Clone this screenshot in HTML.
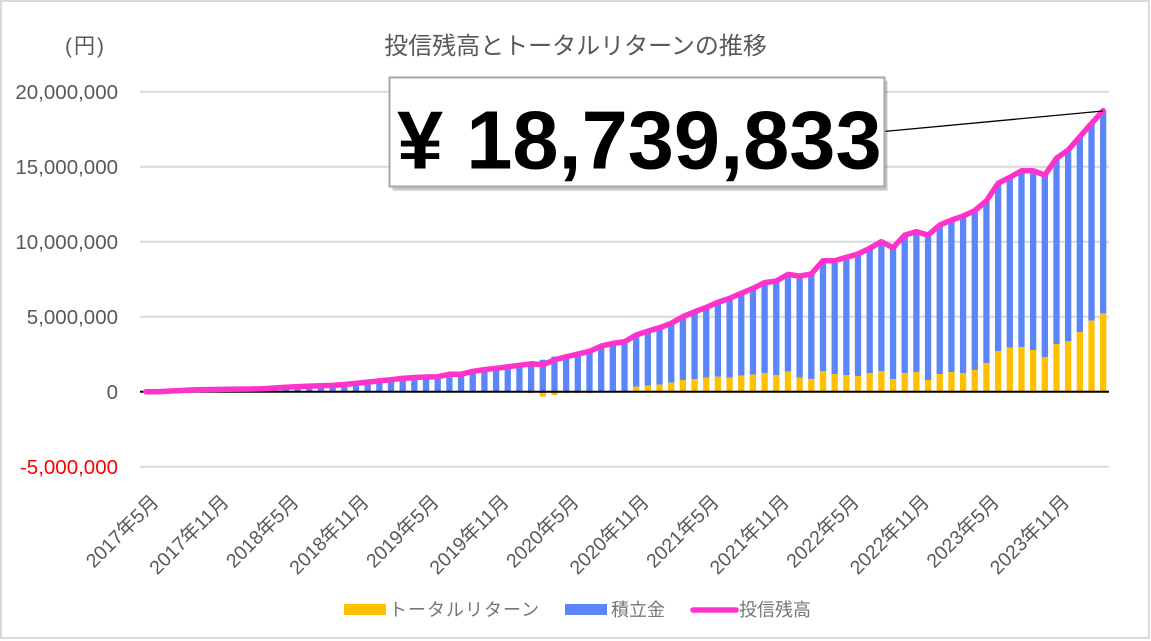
<!DOCTYPE html>
<html>
<head>
<meta charset="utf-8">
<style>
  html,body{margin:0;padding:0;background:#fff;}
  svg{display:block;}
  text{font-family:"Liberation Sans","Noto Sans CJK JP",sans-serif;}
</style>
</head>
<body>
<svg width="1151" height="641" viewBox="0 0 1151 641" xmlns="http://www.w3.org/2000/svg">
  <rect x="0" y="0" width="1151" height="641" fill="#fff"/>
  <rect x="1" y="1" width="1148" height="637" fill="none" stroke="#d9d9d9" stroke-width="2"/>

  <text x="575.5" y="54" font-size="24" fill="#595959" text-anchor="middle">投信残高とトータルリターンの推移</text>
  <text x="65" y="53" font-size="21" fill="#595959" letter-spacing="2">(円)</text>

  <g stroke="#d9d9d9" stroke-width="2">
    <line x1="140" y1="91.7" x2="1109" y2="91.7"/>
    <line x1="140" y1="166.7" x2="1109" y2="166.7"/>
    <line x1="140" y1="241.7" x2="1109" y2="241.7"/>
    <line x1="140" y1="316.7" x2="1109" y2="316.7"/>
    <line x1="140" y1="466.7" x2="1109" y2="466.7"/>
  </g>

  <g font-size="20.5" fill="#595959" text-anchor="end">
    <text x="118" y="99">20,000,000</text>
    <text x="118" y="174">15,000,000</text>
    <text x="118" y="249">10,000,000</text>
    <text x="118" y="324">5,000,000</text>
    <text x="118" y="399">0</text>
    <text x="118" y="474" fill="#ff0000">-5,000,000</text>
  </g>

  <g transform="translate(145.84,391.7) scale(11.675,-15)">
    <g fill="#5b86fa">
      <rect x="1.73" y="0" width="0.54" height="0.04"/>
      <rect x="2.73" y="0" width="0.54" height="0.08"/>
      <rect x="3.73" y="0" width="0.54" height="0.12"/>
      <rect x="4.73" y="0" width="0.54" height="0.14"/>
      <rect x="5.73" y="0" width="0.54" height="0.15"/>
      <rect x="6.73" y="0" width="0.54" height="0.16"/>
      <rect x="7.73" y="0" width="0.54" height="0.17"/>
      <rect x="8.73" y="0" width="0.54" height="0.18"/>
      <rect x="9.73" y="0" width="0.54" height="0.22"/>
      <rect x="10.73" y="0" width="0.54" height="0.25"/>
      <rect x="11.73" y="0" width="0.54" height="0.3"/>
      <rect x="12.73" y="0" width="0.54" height="0.36"/>
      <rect x="13.73" y="0" width="0.54" height="0.37"/>
      <rect x="14.73" y="0" width="0.54" height="0.4"/>
      <rect x="15.73" y="0" width="0.54" height="0.42"/>
      <rect x="16.73" y="0" width="0.54" height="0.51"/>
      <rect x="17.73" y="0" width="0.54" height="0.59"/>
      <rect x="18.73" y="0" width="0.54" height="0.67"/>
      <rect x="19.73" y="0" width="0.54" height="0.75"/>
      <rect x="20.73" y="0" width="0.54" height="0.83"/>
      <rect x="21.73" y="0" width="0.54" height="0.92"/>
      <rect x="22.73" y="0" width="0.54" height="0.95"/>
      <rect x="23.73" y="0" width="0.54" height="1.01"/>
      <rect x="24.73" y="0" width="0.54" height="1.03"/>
      <rect x="25.73" y="0" width="0.54" height="1.19"/>
      <rect x="26.73" y="0" width="0.54" height="1.19"/>
      <rect x="27.73" y="0" width="0.54" height="1.39"/>
      <rect x="28.73" y="0" width="0.54" height="1.47"/>
      <rect x="29.73" y="0" width="0.54" height="1.56"/>
      <rect x="30.73" y="0" width="0.54" height="1.66"/>
      <rect x="31.73" y="0" width="0.54" height="1.76"/>
      <rect x="32.73" y="0" width="0.54" height="1.96"/>
      <rect x="33.73" y="0" width="0.54" height="2.13"/>
      <rect x="34.73" y="0" width="0.54" height="2.34"/>
      <rect x="35.73" y="0" width="0.54" height="2.43"/>
      <rect x="36.73" y="0" width="0.54" height="2.61"/>
      <rect x="37.73" y="0" width="0.54" height="2.79"/>
      <rect x="38.73" y="0" width="0.54" height="3.04"/>
      <rect x="39.73" y="0" width="0.54" height="3.22"/>
      <rect x="40.73" y="0" width="0.54" height="3.33"/>
      <rect x="41.73" y="0.33" width="0.54" height="3.45"/>
      <rect x="42.73" y="0.4" width="0.54" height="3.64"/>
      <rect x="43.73" y="0.47" width="0.54" height="3.8"/>
      <rect x="44.73" y="0.6" width="0.54" height="3.96"/>
      <rect x="45.73" y="0.78" width="0.54" height="4.22"/>
      <rect x="46.73" y="0.84" width="0.54" height="4.49"/>
      <rect x="47.73" y="0.93" width="0.54" height="4.69"/>
      <rect x="48.73" y="1.0" width="0.54" height="4.96"/>
      <rect x="49.73" y="0.93" width="0.54" height="5.29"/>
      <rect x="50.73" y="1.07" width="0.54" height="5.49"/>
      <rect x="51.73" y="1.13" width="0.54" height="5.76"/>
      <rect x="52.73" y="1.24" width="0.54" height="6.03"/>
      <rect x="53.73" y="1.11" width="0.54" height="6.27"/>
      <rect x="54.73" y="1.33" width="0.54" height="6.49"/>
      <rect x="55.73" y="0.93" width="0.54" height="6.78"/>
      <rect x="56.73" y="0.84" width="0.54" height="7.01"/>
      <rect x="57.73" y="1.38" width="0.54" height="7.35"/>
      <rect x="58.73" y="1.18" width="0.54" height="7.55"/>
      <rect x="59.73" y="1.11" width="0.54" height="7.85"/>
      <rect x="60.73" y="1.04" width="0.54" height="8.14"/>
      <rect x="61.73" y="1.24" width="0.54" height="8.32"/>
      <rect x="62.73" y="1.38" width="0.54" height="8.62"/>
      <rect x="63.73" y="0.84" width="0.54" height="8.76"/>
      <rect x="64.73" y="1.24" width="0.54" height="9.2"/>
      <rect x="65.73" y="1.31" width="0.54" height="9.36"/>
      <rect x="66.73" y="0.78" width="0.54" height="9.66"/>
      <rect x="67.73" y="1.18" width="0.54" height="9.93"/>
      <rect x="68.73" y="1.31" width="0.54" height="10.13"/>
      <rect x="69.73" y="1.24" width="0.54" height="10.47"/>
      <rect x="70.73" y="1.44" width="0.54" height="10.63"/>
      <rect x="71.73" y="1.91" width="0.54" height="10.82"/>
      <rect x="72.73" y="2.71" width="0.54" height="11.18"/>
      <rect x="73.73" y="2.93" width="0.54" height="11.36"/>
      <rect x="74.73" y="2.98" width="0.54" height="11.75"/>
      <rect x="75.73" y="2.78" width="0.54" height="11.95"/>
      <rect x="76.73" y="2.31" width="0.54" height="12.13"/>
      <rect x="77.73" y="3.18" width="0.54" height="12.38"/>
      <rect x="78.73" y="3.38" width="0.54" height="12.73"/>
      <rect x="79.73" y="3.98" width="0.54" height="13.02"/>
      <rect x="80.73" y="4.73" width="0.54" height="13.16"/>
      <rect x="81.73" y="5.22" width="0.54" height="13.52"/>
    </g>
    <g fill="#ffc000">
      <rect x="9.73" y="-0.03" width="0.54" height="0.03"/>
      <rect x="12.73" y="-0.03" width="0.54" height="0.03"/>
      <rect x="16.73" y="-0.03" width="0.54" height="0.03"/>
      <rect x="17.73" y="-0.03" width="0.54" height="0.03"/>
      <rect x="18.73" y="-0.03" width="0.54" height="0.03"/>
      <rect x="19.73" y="-0.03" width="0.54" height="0.03"/>
      <rect x="20.73" y="-0.03" width="0.54" height="0.03"/>
      <rect x="21.73" y="-0.03" width="0.54" height="0.03"/>
      <rect x="23.73" y="-0.03" width="0.54" height="0.03"/>
      <rect x="24.73" y="-0.03" width="0.54" height="0.03"/>
      <rect x="25.73" y="-0.03" width="0.54" height="0.03"/>
      <rect x="26.73" y="-0.03" width="0.54" height="0.03"/>
      <rect x="27.73" y="-0.03" width="0.54" height="0.03"/>
      <rect x="32.73" y="-0.1" width="0.54" height="0.1"/>
      <rect x="33.73" y="-0.33" width="0.54" height="0.33"/>
      <rect x="34.73" y="-0.22" width="0.54" height="0.22"/>
      <rect x="35.73" y="-0.1" width="0.54" height="0.1"/>
      <rect x="36.73" y="-0.1" width="0.54" height="0.1"/>
      <rect x="37.73" y="-0.1" width="0.54" height="0.1"/>
      <rect x="41.73" y="0" width="0.54" height="0.33"/>
      <rect x="42.73" y="0" width="0.54" height="0.4"/>
      <rect x="43.73" y="0" width="0.54" height="0.47"/>
      <rect x="44.73" y="0" width="0.54" height="0.6"/>
      <rect x="45.73" y="0" width="0.54" height="0.78"/>
      <rect x="46.73" y="0" width="0.54" height="0.84"/>
      <rect x="47.73" y="0" width="0.54" height="0.93"/>
      <rect x="48.73" y="0" width="0.54" height="1.0"/>
      <rect x="49.73" y="0" width="0.54" height="0.93"/>
      <rect x="50.73" y="0" width="0.54" height="1.07"/>
      <rect x="51.73" y="0" width="0.54" height="1.13"/>
      <rect x="52.73" y="0" width="0.54" height="1.24"/>
      <rect x="53.73" y="0" width="0.54" height="1.11"/>
      <rect x="54.73" y="0" width="0.54" height="1.33"/>
      <rect x="55.73" y="0" width="0.54" height="0.93"/>
      <rect x="56.73" y="0" width="0.54" height="0.84"/>
      <rect x="57.73" y="0" width="0.54" height="1.38"/>
      <rect x="58.73" y="0" width="0.54" height="1.18"/>
      <rect x="59.73" y="0" width="0.54" height="1.11"/>
      <rect x="60.73" y="0" width="0.54" height="1.04"/>
      <rect x="61.73" y="0" width="0.54" height="1.24"/>
      <rect x="62.73" y="0" width="0.54" height="1.38"/>
      <rect x="63.73" y="0" width="0.54" height="0.84"/>
      <rect x="64.73" y="0" width="0.54" height="1.24"/>
      <rect x="65.73" y="0" width="0.54" height="1.31"/>
      <rect x="66.73" y="0" width="0.54" height="0.78"/>
      <rect x="67.73" y="0" width="0.54" height="1.18"/>
      <rect x="68.73" y="0" width="0.54" height="1.31"/>
      <rect x="69.73" y="0" width="0.54" height="1.24"/>
      <rect x="70.73" y="0" width="0.54" height="1.44"/>
      <rect x="71.73" y="0" width="0.54" height="1.91"/>
      <rect x="72.73" y="0" width="0.54" height="2.71"/>
      <rect x="73.73" y="0" width="0.54" height="2.93"/>
      <rect x="74.73" y="0" width="0.54" height="2.98"/>
      <rect x="75.73" y="0" width="0.54" height="2.78"/>
      <rect x="76.73" y="0" width="0.54" height="2.31"/>
      <rect x="77.73" y="0" width="0.54" height="3.18"/>
      <rect x="78.73" y="0" width="0.54" height="3.38"/>
      <rect x="79.73" y="0" width="0.54" height="3.98"/>
      <rect x="80.73" y="0" width="0.54" height="4.73"/>
      <rect x="81.73" y="0" width="0.54" height="5.22"/>
    </g>
  </g>

  <line x1="140" y1="391.7" x2="1109" y2="391.7" stroke="#000" stroke-width="2"/>

  <g transform="translate(145.84,391.7) scale(11.675,-15)">
    <polyline fill="none" stroke="#ff33cc" stroke-width="5.5" stroke-linejoin="round" stroke-linecap="round" vector-effect="non-scaling-stroke"
      points="0,0 1,0 2,0.04 3,0.08 4,0.12 5,0.14 6,0.15 7,0.16 8,0.17 9,0.18 10,0.2 11,0.25 12,0.3 13,0.34 14,0.37 15,0.4 16,0.42 17,0.48 18,0.56 19,0.64 20,0.72 21,0.8 22,0.89 23,0.95 24,0.98 25,1.0 26,1.16 27,1.16 28,1.36 29,1.47 30,1.56 31,1.66 32,1.76 33,1.86 34,1.8 35,2.12 36,2.33 37,2.51 38,2.69 39,3.04 40,3.22 41,3.33 42,3.78 43,4.04 44,4.27 45,4.56 46,5.0 47,5.33 48,5.62 49,5.96 50,6.22 51,6.56 52,6.89 53,7.27 54,7.38 55,7.82 56,7.71 57,7.85 58,8.73 59,8.73 60,8.96 61,9.18 62,9.56 63,10.0 64,9.6 65,10.44 66,10.67 67,10.44 68,11.11 69,11.44 70,11.71 71,12.07 72,12.73 73,13.89 74,14.29 75,14.73 76,14.73 77,14.44 78,15.56 79,16.11 80,17.0 81,17.89 82,18.74"/>
  </g>

  <line x1="884" y1="131.5" x2="1103" y2="111" stroke="#000" stroke-width="1.3"/>
  <rect x="393" y="81" width="495" height="110" fill="#000" opacity="0.12"/>
  <rect x="392" y="80" width="495" height="110" fill="#000" opacity="0.10"/>
  <rect x="389.5" y="77.5" width="495" height="109" fill="#fff" stroke="#a6a6a6" stroke-width="2"/>
  <text x="397" y="168.5" font-size="83" font-weight="bold" fill="#000">¥ 18,739,833</text>

  <g font-size="19.5" fill="#595959" text-anchor="end">
    <text transform="translate(159.8,503) rotate(-45)">2017年5月</text>
    <text transform="translate(229.9,503) rotate(-45)">2017年11月</text>
    <text transform="translate(299.9,503) rotate(-45)">2018年5月</text>
    <text transform="translate(370,503) rotate(-45)">2018年11月</text>
    <text transform="translate(440,503) rotate(-45)">2019年5月</text>
    <text transform="translate(510.1,503) rotate(-45)">2019年11月</text>
    <text transform="translate(580.1,503) rotate(-45)">2020年5月</text>
    <text transform="translate(650.2,503) rotate(-45)">2020年11月</text>
    <text transform="translate(720.2,503) rotate(-45)">2021年5月</text>
    <text transform="translate(790.3,503) rotate(-45)">2021年11月</text>
    <text transform="translate(860.3,503) rotate(-45)">2022年5月</text>
    <text transform="translate(930.4,503) rotate(-45)">2022年11月</text>
    <text transform="translate(1000.4,503) rotate(-45)">2023年5月</text>
    <text transform="translate(1070.5,503) rotate(-45)">2023年11月</text>
  </g>

  <rect x="344" y="604" width="42" height="11" fill="#ffc000"/>
  <text x="389" y="616" font-size="18" fill="#767676" letter-spacing="1">トータルリターン</text>
  <rect x="565" y="604" width="42" height="11" fill="#5b86fa"/>
  <text x="611" y="616" font-size="18" fill="#767676">積立金</text>
  <line x1="693" y1="610" x2="736" y2="610" stroke="#ff33cc" stroke-width="5.5" stroke-linecap="round"/>
  <text x="739" y="616" font-size="18" fill="#767676">投信残高</text>
</svg>
</body>
</html>
